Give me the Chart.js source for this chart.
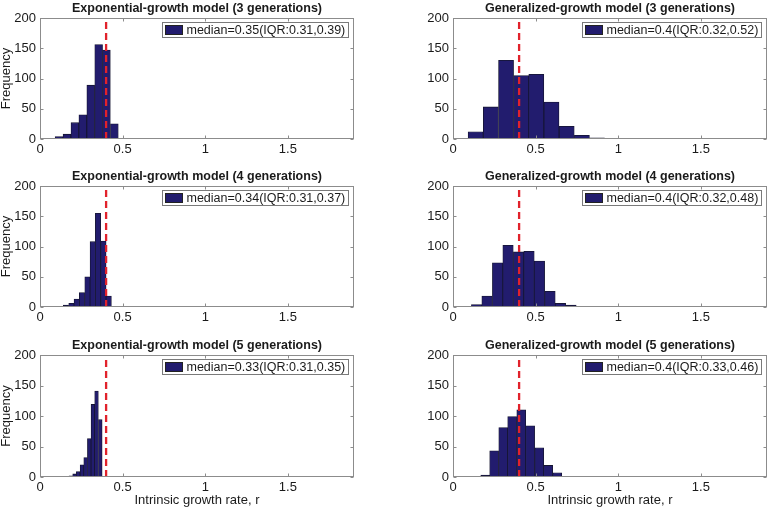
<!DOCTYPE html>
<html>
<head>
<meta charset="utf-8">
<script src="https://cdn.jsdelivr.net/npm/chart.js@4"></script>
<style>
  html, body { margin: 0; padding: 0; background: #fff; overflow: hidden; }
  #wrap { position: relative; width: 770px; height: 509px; }
  canvas { position: absolute; }
</style>
</head>
<body>
<div id="wrap"></div>
<script>
'use strict';

// bin centres and counts
let exp3Bins = [0.020, 0.068, 0.115, 0.163, 0.211, 0.259, 0.307, 0.355, 0.402, 0.450];
let exp3Counts = [1, 1, 4, 8, 27, 40, 89, 156, 147, 25];

let gen3Bins = [0.046, 0.137, 0.229, 0.321, 0.413, 0.504, 0.596, 0.688, 0.780, 0.871];
let gen3Counts = [1, 12, 53, 130, 105, 107, 61, 21, 6, 2];

let exp4Bins = [0.125, 0.157, 0.190, 0.222, 0.254, 0.287, 0.319, 0.351, 0.384, 0.416];
let exp4Counts = [1, 3, 6, 13, 24, 50, 108, 155, 109, 18];

let gen4Bins = [0.143, 0.206, 0.270, 0.333, 0.397, 0.460, 0.523, 0.587, 0.650, 0.714];
let gen4Counts = [4, 18, 73, 102, 91, 92, 76, 26, 6, 3];

let exp5Bins = [0.187, 0.209, 0.231, 0.254, 0.276, 0.298, 0.320, 0.342, 0.365, 0.387];
let exp5Counts = [2, 5, 9, 20, 32, 63, 119, 141, 94, 1];

let gen5Bins = [0.140, 0.195, 0.249, 0.304, 0.358, 0.413, 0.467, 0.522, 0.576, 0.631];
let gen5Counts = [1, 3, 43, 81, 99, 110, 84, 48, 19, 7];

let panelTitles = [
  'Exponential-growth model (3 generations)', 'Generalized-growth model (3 generations)',
  'Exponential-growth model (4 generations)', 'Generalized-growth model (4 generations)',
  'Exponential-growth model (5 generations)', 'Generalized-growth model (5 generations)'
];
let legendLabels = [
  'median=0.35(IQR:0.31,0.39)', 'median=0.4(IQR:0.32,0.52)',
  'median=0.34(IQR:0.31,0.37)', 'median=0.4(IQR:0.32,0.48)',
  'median=0.33(IQR:0.31,0.35)', 'median=0.4(IQR:0.33,0.46)'
];

let xTicks = [0, 0.5, 1, 1.5];
let yTicks = [0, 50, 100, 150, 200];
let trueR = 0.4;

const FONT = '"Liberation Sans", Arial, Helvetica, sans-serif';
const BAR_FILL = '#221c6e';
const AXIS_GREY = '#8c8c8c';
const TEXT_COL = '#1a1a1a';

// MATLAB-ish axes box, inward ticks, legend box and title
const matlabBox = {
  id: 'matlabBox',
  afterDraw(chart, args, opts) {
    const ctx = chart.ctx;
    const a = chart.chartArea;
    const xs = chart.scales.x;
    const ys = chart.scales.y;
    const l = Math.round(a.left) + 0.5, r = Math.round(a.right) - 0.5;
    const t = Math.round(a.top) + 0.5, b = Math.round(a.bottom) - 0.5;

    ctx.save();
    ctx.strokeStyle = AXIS_GREY;
    ctx.lineWidth = 1;
    ctx.strokeRect(l, t, r - l, b - t);
    ctx.beginPath();
    for (let v of xTicks) {
      let px = Math.round(xs.getPixelForValue(v)) + 0.5;
      ctx.moveTo(px, b); ctx.lineTo(px, b - 3);
      ctx.moveTo(px, t); ctx.lineTo(px, t + 3);
    }
    for (let v of yTicks) {
      let py = Math.round(ys.getPixelForValue(v)) + 0.5;
      ctx.moveTo(l, py); ctx.lineTo(l + 3, py);
      ctx.moveTo(r, py); ctx.lineTo(r - 3, py);
    }
    ctx.stroke();

    // legend
    ctx.font = '12.5px ' + FONT;
    let tw = ctx.measureText(opts.legend).width;
    let w = Math.round(3 + 17 + 4 + tw + 3);
    let h = 15;
    let bx = Math.round(r - 6 - w) + 0.5;
    let by = Math.round(a.top + 4) + 0.5;
    ctx.fillStyle = '#fff';
    ctx.fillRect(bx, by, w, h);
    ctx.strokeStyle = '#7a7a7a';
    ctx.strokeRect(bx, by, w, h);
    ctx.fillStyle = BAR_FILL;
    ctx.fillRect(bx + 3, by + 3, 17, 9);
    ctx.strokeStyle = '#222';
    ctx.strokeRect(bx + 3, by + 3, 17, 9);
    ctx.fillStyle = TEXT_COL;
    ctx.textBaseline = 'middle';
    ctx.textAlign = 'left';
    ctx.fillText(opts.legend, bx + 24, by + h / 2 + 0.5);

    // title
    ctx.font = 'bold 12.5px ' + FONT;
    ctx.textAlign = 'center';
    ctx.fillText(opts.title, (a.left + a.right) / 2, a.top - 9);
    ctx.restore();
  }
};

let wrap = document.getElementById('wrap');
let rowTop = [0, 168, 337];
let rowH = [168, 169, 172];
let xAxisH = [29, 30, 32];

function makePanel(idx, bins, counts) {
  let col = idx % 2;
  let row = Math.floor(idx / 2);
  let cv = document.createElement('canvas');
  cv.width = 385;
  cv.height = rowH[row];
  cv.style.left = (col * 385) + 'px';
  cv.style.top = rowTop[row] + 'px';
  wrap.appendChild(cv);

  let barData = [];
  for (let i = 0; i < bins.length; i++) {
    barData.push({ x: bins[i], y: counts[i] });
  }

  let tickFont = { family: FONT, size: 13 };

  new Chart(cv, {
    type: 'bar',
    data: {
      datasets: [{
        type: 'line',
        data: [{ x: trueR, y: 0 }, { x: trueR, y: 200 }],
        borderColor: '#e1222b',
        borderWidth: 2.3,
        borderDash: [7, 4],
        pointRadius: 0,
        order: 0
      }, {
        type: 'bar',
        data: barData,
        backgroundColor: BAR_FILL,
        borderColor: '#151530',
        borderWidth: 0.8,
        barPercentage: 1,
        categoryPercentage: 1,
        order: 1
      }]
    },
    options: {
      responsive: false,
      animation: false,
      layout: { padding: { top: 18, right: col === 0 ? 31 : 3, left: 0, bottom: 0 } },
      plugins: {
        legend: { display: false },
        tooltip: { enabled: false },
        matlabBox: { title: panelTitles[idx], legend: legendLabels[idx] }
      },
      scales: {
        x: {
          type: 'linear',
          min: 0,
          max: 1.9,
          offset: false,
          grid: { display: false, drawTicks: false },
          border: { display: false },
          afterBuildTicks: s => { s.ticks = xTicks.map(v => ({ value: v })); },
          afterFit: s => { s.height = xAxisH[row]; },
          ticks: { padding: 3, font: tickFont, color: TEXT_COL, maxRotation: 0, autoSkip: false, callback: v => String(v) },
          title: { display: row === 2, text: 'Intrinsic growth rate, r', font: tickFont, color: TEXT_COL, padding: { top: 0, bottom: 1 } }
        },
        y: {
          min: 0,
          max: 200,
          grid: { display: false, drawTicks: false },
          border: { display: false },
          afterBuildTicks: s => { s.ticks = yTicks.map(v => ({ value: v })); },
          afterFit: s => { s.width = col === 0 ? 40 : 68; },
          ticks: { padding: 4, font: tickFont, color: TEXT_COL, callback: v => String(v) },
          title: { display: col === 0, text: 'Frequency', font: tickFont, color: TEXT_COL, padding: { top: -1, bottom: 0 } }
        }
      }
    },
    plugins: [matlabBox]
  });
}

makePanel(0, exp3Bins, exp3Counts);
makePanel(1, gen3Bins, gen3Counts);
makePanel(2, exp4Bins, exp4Counts);
makePanel(3, gen4Bins, gen4Counts);
makePanel(4, exp5Bins, exp5Counts);
makePanel(5, gen5Bins, gen5Counts);
</script>
</body>
</html>
